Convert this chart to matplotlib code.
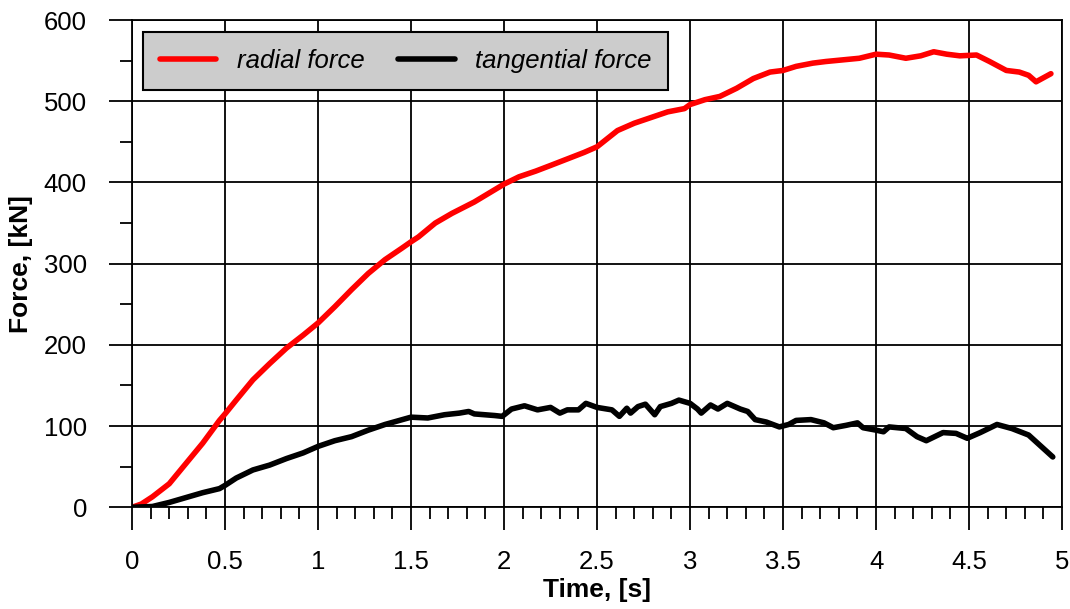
import numpy as np
import matplotlib
matplotlib.use("Agg")
from matplotlib import pyplot as plt
from matplotlib.ticker import MultipleLocator

plt.rcParams['font.family'] = ['Liberation Sans', 'DejaVu Sans']

# radial force (red)
t_radial = [0, 0.05, 0.11, 0.2, 0.29, 0.38, 0.47, 0.5, 0.56, 0.65,
            0.74, 0.83, 0.92, 1.0, 1.09, 1.18, 1.27, 1.36, 1.45, 1.5,
            1.54, 1.63, 1.72, 1.84, 2.0, 2.08, 2.17, 2.25, 2.34, 2.43,
            2.5, 2.61, 2.7, 2.79, 2.88, 2.97, 3.0, 3.08, 3.16, 3.25,
            3.34, 3.43, 3.5, 3.57, 3.66, 3.73, 3.82, 3.91, 4.0, 4.07,
            4.16, 4.24, 4.31, 4.38, 4.45, 4.54, 4.61, 4.7, 4.77, 4.82,
            4.86, 4.94]
f_radial = [0, 4, 13, 29, 54, 79, 107, 115, 132, 157,
            177, 196, 212, 227, 247, 268, 288, 305, 319, 327,
            333, 350, 362, 376, 398, 407, 414, 421, 429, 437,
            444, 464, 473, 480, 487, 491, 496, 502, 506, 516,
            528, 536, 538, 543, 547, 549, 551, 553, 558, 557,
            553, 556, 561, 558, 556, 557, 549, 538, 536, 532,
            524, 534]

# tangential force (black)
t_tang = [0, 0.11, 0.2, 0.29, 0.38, 0.47, 0.5, 0.56, 0.65, 0.74,
          0.83, 0.92, 1.0, 1.09, 1.18, 1.27, 1.36, 1.5, 1.59, 1.68,
          1.76, 1.81, 1.84, 1.95, 1.99, 2.04, 2.11, 2.18, 2.25, 2.3,
          2.34, 2.4, 2.44, 2.5, 2.58, 2.62, 2.66, 2.68, 2.72, 2.76,
          2.81, 2.84, 2.9, 2.94, 3.0, 3.04, 3.06, 3.11, 3.15, 3.2,
          3.27, 3.31, 3.35, 3.41, 3.48, 3.53, 3.57, 3.65, 3.72, 3.77,
          3.84, 3.9, 3.93, 4.0, 4.04, 4.07, 4.16, 4.22, 4.27, 4.36,
          4.43, 4.49, 4.56, 4.65, 4.73, 4.82, 4.95]
f_tang = [0, 1, 6, 12, 18, 23, 27, 36, 46, 52,
          60, 67, 75, 82, 87, 95, 102, 111, 110, 114,
          116, 118, 115, 113, 112, 121, 125, 120, 123, 116,
          120, 120, 128, 123, 120, 112, 122, 116, 124, 127,
          114, 124, 128, 132, 128, 121, 116, 126, 121, 128,
          121, 118, 108, 105, 99, 102, 107, 108, 104, 98,
          101, 104, 98, 95, 93, 99, 97, 87, 82, 92,
          91, 85, 92, 102, 97, 89, 62]

fig = plt.figure(figsize=(10.7, 6.09), dpi=100)
ax = fig.add_axes([0.1234, 0.167, 0.8692, 0.80])

ax.plot(t_radial, f_radial, color='red', lw=4, label='radial force',
        solid_capstyle='round', solid_joinstyle='round')
ax.plot(t_tang, f_tang, color='black', lw=4, label='tangential force',
        solid_capstyle='round', solid_joinstyle='round')

ax.set_xlim(0, 5)
ax.set_ylim(0, 600)
ax.xaxis.set_major_locator(MultipleLocator(0.5))
ax.xaxis.set_minor_locator(MultipleLocator(0.1))
ax.yaxis.set_major_locator(MultipleLocator(100))
ax.yaxis.set_minor_locator(MultipleLocator(50))
ax.xaxis.set_major_formatter(plt.FuncFormatter(lambda v, p: f"{v:g}"))

ax.grid(True, which='major', color='black', lw=1.3)
ax.set_axisbelow(True)
for s in ax.spines.values():
    s.set_color('black')
    s.set_linewidth(1.3)

ax.tick_params(axis='x', which='major', direction='out', length=16.5, width=1.3, pad=14, labelsize=18.5)
ax.tick_params(axis='x', which='minor', direction='out', length=8.5, width=1.3)
ax.tick_params(axis='y', which='major', direction='out', length=16.5, width=1.3, pad=16, labelsize=18.5)
ax.tick_params(axis='y', which='minor', direction='out', length=9, width=1.3)

ax.set_xlabel('Time, [s]', fontsize=19, fontweight='bold', labelpad=3)
ax.set_ylabel('Force, [kN]', fontsize=19, fontweight='bold', labelpad=8)

leg = ax.legend(loc='upper left', ncol=2, fancybox=False, framealpha=1,
                facecolor='#cccccc', edgecolor='black', handlelength=2.2,
                handletextpad=0.8, columnspacing=1.3, borderpad=0.65,
                borderaxespad=0, bbox_to_anchor=(0.012, 0.975),
                prop={'style': 'italic', 'size': 18.5})
leg.get_frame().set_linewidth(1.5)

fig.savefig('out.png', dpi=100)
